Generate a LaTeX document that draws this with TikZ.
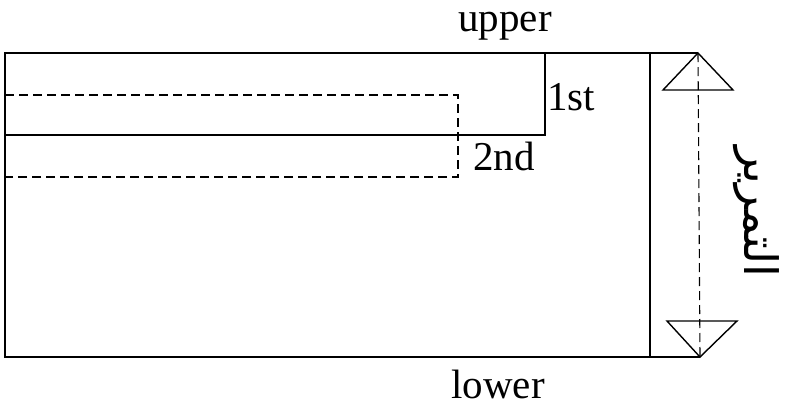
\documentclass[tikz,border=0pt]{standalone}
\usepackage{fontspec}
\setmainfont{Liberation Serif}
\newfontfamily\arabicfont[Script=Arabic]{DejaVu Sans}
\TeXXeTstate=1
\begin{document}
\begin{tikzpicture}[x=1pt,y=-1pt,
  solidline/.style={line width=1.4pt,black},
  dashline/.style={line width=1.1pt,black,dash pattern=on 9pt off 5pt},
  lbl/.style={font=\fontsize{41}{44}\selectfont,inner sep=0pt}]
\useasboundingbox (0,0) rectangle (787,408);
% outer frame
\coordinate (tl) at (5,53);
\coordinate (bl) at (5,357);
\coordinate (tr) at (698,53);
\coordinate (br) at (700,357);
\draw[solidline] (tr) -- (tl) -- (bl) -- (br);
% scroll strip line
\coordinate (vt) at (650,53);
\coordinate (vb) at (650,357);
\draw[solidline] (vt) -- (vb);
% 1st box
\draw[solidline] (5,135) -- (545,135) -- (545,53);
% 2nd dashed box
\draw[dashline] (5,95) -- (458,95) -- (458,177) -- (5,177);
% triangles
\draw[solidline] (tr) -- (663,90) -- (733,90) -- cycle;
\draw[solidline] (br) -- (667,321) -- (737,321) -- cycle;
\draw[dashline] (tr) -- (br);
% labels
\node[lbl,anchor=base] (upper) at (505,31) {upper};
\node[lbl] (lower) at (498,384) {lower};
\node[lbl,anchor=west] (first) at (547,97) {1st};
\node[lbl,anchor=west] (second) at (473,156) {2nd};
\node[inner sep=0pt,rotate=-90] (ar) at (756,212) {\fontsize{46}{48}\selectfont\arabicfont\beginR التمرير\endR};
\end{tikzpicture}
\end{document}
